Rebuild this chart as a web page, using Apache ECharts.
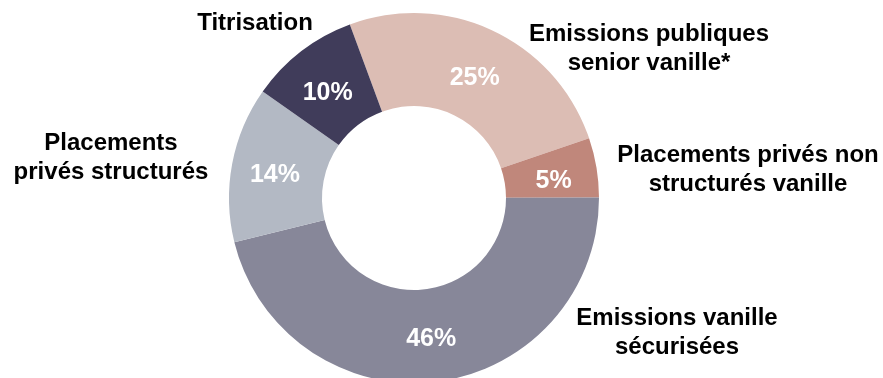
<!DOCTYPE html>
<html>
<head>
<meta charset="utf-8">
<script src="https://cdn.jsdelivr.net/npm/echarts@6/dist/echarts.min.js"></script>
<style>html,body{margin:0;padding:0;background:#fff}#c{width:883px;height:378px}</style>
</head>
<body>
<div id="c"></div>
<script>
const categories = [
  'Emissions publiques\nsenior vanille*',
  'Placements privés non\nstructurés vanille',
  'Emissions vanille\nsécurisées',
  'Placements\nprivés structurés',
  'Titrisation'
];
const shares = [25.4, 5.2, 46.2, 13.6, 9.6];
const colors = ['#dcbdb4', '#c0877b', '#878799', '#b3b9c4', '#403c5a'];
const nameLabelPos = [[649, 49], [748, 170], [677, 333], [111, 158], [255, 23]];
const pctLabelShift = [8, 6, 1, 3, 7];

const font = '"Liberation Sans", Arial, sans-serif';
const data = categories.map((c, i) => ({ name: c, value: shares[i], itemStyle: { color: colors[i] } }));

const chart = echarts.init(document.getElementById('c'), null, { renderer: 'canvas' });
chart.setOption({
  animation: false,
  series: [
    {
      type: 'pie',
      center: [414, 198],
      radius: [92, 185],
      startAngle: 110.3,
      clockwise: true,
      data: data,
      itemStyle: { borderWidth: 0 },
      label: {
        position: 'inside',
        formatter: p => Math.round(p.value) + '%',
        color: '#fff',
        fontFamily: font,
        fontWeight: 'bold',
        fontSize: 25,
        overflow: 'none'
      },
      labelLine: { show: false },
      labelLayout: p => ({ dy: pctLabelShift[p.dataIndex] }),
      emphasis: { disabled: true }
    },
    {
      type: 'pie',
      center: [414, 198],
      radius: [92, 185],
      startAngle: 110.3,
      clockwise: true,
      silent: true,
      data: categories.map((c, i) => ({ name: c, value: shares[i], itemStyle: { color: 'rgba(0,0,0,0)' } })),
      label: {
        position: 'outside',
        formatter: '{b}',
        color: '#000',
        fontFamily: font,
        fontWeight: 'bold',
        fontSize: 24,
        lineHeight: 29,
        align: 'center',
        overflow: 'none',
        width: 400
      },
      labelLine: { show: false },
      labelLayout: p => ({
        x: nameLabelPos[p.dataIndex][0],
        y: nameLabelPos[p.dataIndex][1],
        align: 'center',
        verticalAlign: 'middle',
        moveOverlap: null
      }),
      emphasis: { disabled: true }
    }
  ]
});
</script>
</body>
</html>
